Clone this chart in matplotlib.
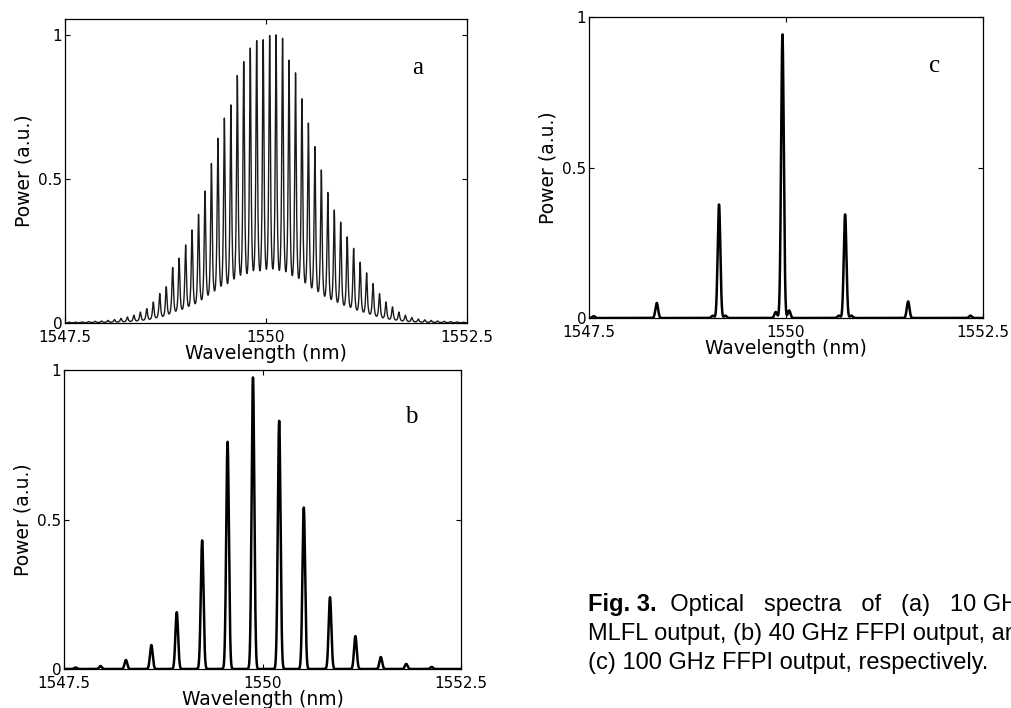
import numpy as np
import matplotlib
matplotlib.use("Agg")
import matplotlib.pyplot as plt

# (a) 10 GHz MLFL output: mode wavelengths (nm) and peak power (a.u.)
wl_a = [1547.553, 1547.633, 1547.713, 1547.794, 1547.874, 1547.955, 1548.035, 1548.115,
        1548.196, 1548.276, 1548.357, 1548.437, 1548.517, 1548.598, 1548.678, 1548.759,
        1548.839, 1548.919, 1549.000, 1549.080, 1549.161, 1549.241, 1549.321, 1549.402,
        1549.482, 1549.563, 1549.643, 1549.723, 1549.804, 1549.884, 1549.965, 1550.045,
        1550.125, 1550.206, 1550.286, 1550.367, 1550.447, 1550.527, 1550.608, 1550.688,
        1550.769, 1550.849, 1550.929, 1551.010, 1551.090, 1551.171, 1551.251, 1551.331,
        1551.412, 1551.492, 1551.573, 1551.653, 1551.733, 1551.814, 1551.894, 1551.975,
        1552.055, 1552.135, 1552.216, 1552.296, 1552.377, 1552.457]
pk_a = [0.003, 0.003, 0.004, 0.005, 0.006, 0.007, 0.009, 0.012,
        0.016, 0.021, 0.027, 0.038, 0.050, 0.073, 0.102, 0.126,
        0.193, 0.225, 0.271, 0.323, 0.377, 0.458, 0.554, 0.641,
        0.711, 0.757, 0.859, 0.907, 0.954, 0.980, 0.983, 0.998,
        1.000, 0.988, 0.912, 0.868, 0.778, 0.694, 0.612, 0.531,
        0.453, 0.392, 0.350, 0.299, 0.259, 0.211, 0.174, 0.137,
        0.102, 0.073, 0.056, 0.038, 0.027, 0.019, 0.014, 0.011,
        0.009, 0.007, 0.006, 0.005, 0.004, 0.003]

# (b) 40 GHz FFPI output
wl_b = [1547.647, 1547.960, 1548.280, 1548.600, 1548.920, 1549.240, 1549.560, 1549.880,
        1550.210, 1550.520, 1550.850, 1551.170, 1551.490, 1551.810, 1552.130]
pk_b = [0.005, 0.010, 0.030, 0.080, 0.190, 0.430, 0.760, 0.975,
        0.830, 0.540, 0.240, 0.110, 0.040, 0.017, 0.007]

# (c) 100 GHz FFPI output, main modes and weak residual side modes
wl_c = [1547.560, 1548.360, 1549.150, 1549.955, 1550.750, 1551.550, 1552.340]
pk_c = [0.006, 0.050, 0.377, 0.942, 0.344, 0.055, 0.008]
wl_c_side = [1549.070, 1549.230, 1549.870, 1550.040, 1550.670, 1550.830]
pk_c_side = [0.008, 0.008, 0.020, 0.025, 0.008, 0.008]

x_ticks = [1547.5, 1550, 1552.5]
x_labels = ["1547.5", "1550", "1552.5"]
y_ticks = [0, 0.5, 1]
y_labels = ["0", "0.5", "1"]

lam = np.linspace(1547.5, 1552.5, 20001)


def lorentz(x, x0, w):
    return 1.0 / (1.0 + (2.0 * (x - x0) / w) ** 2)


def lorentz_comb(wl, pk, w):
    wl = np.asarray(wl)
    pk = np.asarray(pk)
    # amplitudes so that the summed curve passes through the read peak values
    amp = np.linalg.solve(lorentz(wl[:, None], wl[None, :], w), pk)
    return lorentz(lam[:, None], wl[None, :], w) @ amp


def gauss_comb(wl, pk, w):
    s = w / 2.3548
    out = np.zeros_like(lam)
    for x0, h in zip(wl, pk):
        out += h * np.exp(-0.5 * ((lam - x0) / s) ** 2)
    return out


W, H = 1011, 708
fig = plt.figure(figsize=(W / 100, H / 100), dpi=100)


def box(l, t, r, b):
    return [l / W, 1 - b / H, (r - l) / W, (b - t) / H]


def style(ax, ytop, letter, lx, ly):
    ax.set_xlim(1547.5, 1552.5)
    ax.set_ylim(0, ytop)
    ax.set_xticks(x_ticks)
    ax.set_xticklabels(x_labels)
    ax.set_yticks(y_ticks)
    ax.set_yticklabels(y_labels)
    ax.tick_params(direction="in", top=True, right=True, length=3.5, width=0.8,
                   labelsize=11)
    ax.tick_params(axis="x", pad=5)
    ax.tick_params(axis="y", pad=2)
    for sp in ax.spines.values():
        sp.set_linewidth(0.9)
    ax.set_xlabel("Wavelength (nm)", fontsize=13.5, labelpad=-1)
    ax.set_ylabel("Power (a.u.)", fontsize=13.5, labelpad=3)
    ax.text(lx, ly, letter, family="Liberation Serif", fontsize=18,
            ha="center", va="center")


ax_a = fig.add_axes(box(65, 19, 467, 323))
ax_a.plot(lam, lorentz_comb(wl_a, pk_a, 0.024), color="#1a1a1a", lw=1.0)
style(ax_a, 1.055, "a", 1551.89, 0.885)

ax_b = fig.add_axes(box(64, 370, 461, 669))
ax_b.plot(lam, gauss_comb(wl_b, pk_b, 0.04), color="black", lw=1.8)
style(ax_b, 1.0, "b", 1551.87, 0.843)

ax_c = fig.add_axes(box(589, 17, 983, 318))
ax_c.plot(lam, gauss_comb(wl_c + wl_c_side, pk_c + pk_c_side, 0.04),
          color="black", lw=1.8)
style(ax_c, 1.0, "c", 1551.89, 0.837)

# caption
cap_x = 588
cap_fs = 17
renderer = fig.canvas.get_renderer()
t0 = fig.text(cap_x / W, 1 - 611 / H, "Fig. 3.", family="Liberation Sans",
              fontsize=cap_fs, fontweight="bold", va="baseline")
bw = t0.get_window_extent(renderer).width
fig.text((cap_x + bw) / W, 1 - 611 / H, "  Optical   spectra   of   (a)   10 GHz",
         family="Liberation Sans", fontsize=cap_fs, va="baseline")
fig.text(cap_x / W, 1 - 640 / H, "MLFL output, (b) 40 GHz FFPI output, and",
         family="Liberation Sans", fontsize=cap_fs, va="baseline")
fig.text(cap_x / W, 1 - 669 / H, "(c) 100 GHz FFPI output, respectively.",
         family="Liberation Sans", fontsize=cap_fs, va="baseline")

fig.savefig("out.png", dpi=100)
